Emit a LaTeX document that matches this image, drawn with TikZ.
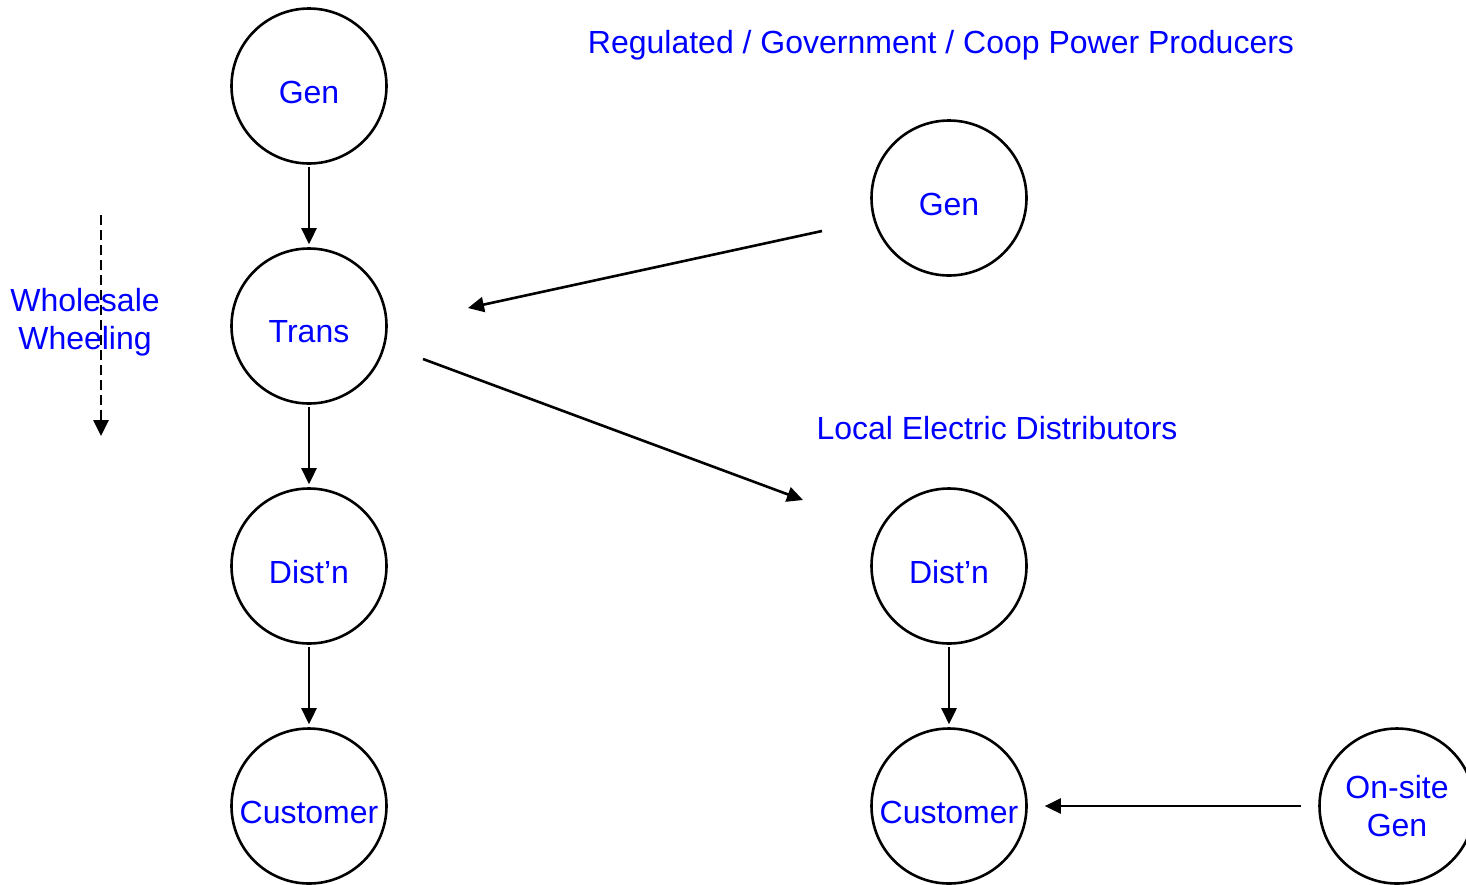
\documentclass[tikz,border=0pt]{standalone}
\usepackage{fontspec}
\setmainfont{Liberation Sans}
\usetikzlibrary{arrows.meta}
\begin{document}
\begin{tikzpicture}[x=1pt,y=-1pt,
  circ/.style={circle,draw=black,line width=2.6pt,minimum size=155pt,inner sep=0pt,
    font=\fontsize{32}{38}\selectfont,text=blue,align=center},
  lab/.style={font=\fontsize{32}{38}\selectfont,text=blue,yshift=-6pt},
  txt/.style={font=\fontsize{32}{38}\selectfont,text=blue,align=center},
  arr/.style={line width=2.6pt,-{Triangle[length=16pt,width=15pt]}},
  darr/.style={arr,dash pattern=on 10pt off 5pt}]
\clip (0,0) rectangle (1466,884);
\fill[white] (0,0) rectangle (1466,884);
% left column
\node[circ,label={[lab]center:Gen}] (g1) at (309,86) {};
\node[circ,label={[lab]center:Trans}] (t1) at (309,326) {};
\node[circ,label={[lab]center:Dist’n}] (d1) at (309,566) {};
\node[circ,label={[lab]center:Customer}] (c1) at (309,806) {};
% right column
\node[circ,label={[lab]center:Gen}] (g2) at (949,198) {};
\node[circ,label={[lab]center:Dist’n}] (d2) at (949,566) {};
\node[circ,label={[lab]center:Customer}] (c2) at (949,806) {};
\node[circ] (og) at (1397,806) {On-site\\Gen};
% texts
\node[txt,anchor=base] (reg) at (941,53) {Regulated / Government / Coop Power Producers};
\node[txt,anchor=base] (led) at (997,439) {Local Electric Distributors};
\node[txt] (ww) at (85,322) {Wholesale\\Wheeling};
% vertical arrows
\draw[arr,shorten <=2pt,shorten >=3pt] (g1) -- (t1);
\draw[arr,shorten <=2pt,shorten >=3pt] (t1) -- (d1);
\draw[arr,shorten <=2pt,shorten >=3pt] (d1) -- (c1);
\draw[arr,shorten <=2pt,shorten >=3pt] (d2) -- (c2);
\draw[arr,shorten <=17pt,shorten >=17pt] (og) -- (c2);
% diagonal arrows
\coordinate (a1s) at (822,231);
\coordinate (a1e) at (468,308);
\coordinate (a2s) at (423,359);
\coordinate (a2e) at (803,500);
\draw[arr] (a1s) -- (a1e);
\draw[arr] (a2s) -- (a2e);
% dashed wheeling arrow
\coordinate (w1) at (101,215);
\coordinate (w2) at (101,436);
\draw[darr] (w1) -- (w2);
\end{tikzpicture}
\end{document}
